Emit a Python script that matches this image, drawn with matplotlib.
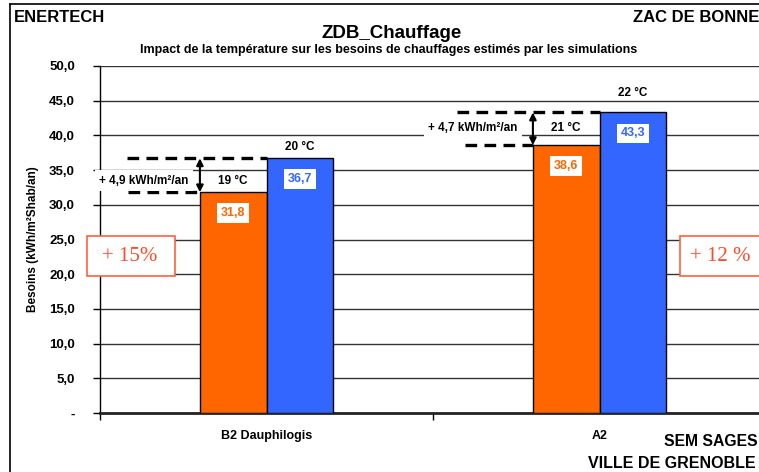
import matplotlib.pyplot as plt
from matplotlib.lines import Line2D
from matplotlib.patches import Rectangle
import numpy as np

categories = ["B2 Dauphilogis", "A2"]
low_vals = [31.8, 38.6]
high_vals = [36.7, 43.3]
low_temps = ["19 °C", "21 °C"]
high_temps = ["20 °C", "22 °C"]
deltas = ["+ 4,9 kWh/m²/an", "+ 4,7 kWh/m²/an"]
percents = ["+ 15%", "+ 12 %"]
yticks = [0, 5, 10, 15, 20, 25, 30, 35, 40, 45, 50]
ytick_labels = ["-", "5,0", "10,0", "15,0", "20,0", "25,0", "30,0", "35,0", "40,0", "45,0", "50,0"]

orange = "#FF6600"
blue = "#3366FF"
red = "#FF4A26"

plt.rcParams['font.family'] = ['Liberation Sans', 'DejaVu Sans']
plt.rcParams['font.weight'] = 'bold'

fig = plt.figure(figsize=(7.59, 4.72), dpi=100)
ax = fig.add_axes([100 / 759, 59 / 472, 666 / 759, 347 / 472])

x = np.arange(len(categories))
w = 0.2
ax.bar(x - w / 2, low_vals, w, color=orange, edgecolor="black", linewidth=1, zorder=3)
ax.bar(x + w / 2, high_vals, w, color=blue, edgecolor="black", linewidth=1, zorder=3)

ax.set_xlim(-0.5, 1.5)
ax.set_ylim(0, 50)
ax.set_yticks(yticks)
ax.set_yticklabels(ytick_labels, fontsize=9.5, fontweight="bold")
ax.set_xticks(x)
ax.set_xticklabels(categories, fontsize=9, fontweight="bold")
ax.set_xticks([-0.5, 0.5, 1.5], minor=True)
ax.tick_params(axis="x", which="major", length=0, pad=12)
ax.tick_params(axis="x", which="minor", length=5, width=1)
ax.tick_params(axis="y", length=5, width=1, pad=13)
ax.set_ylabel("Besoins (kWh/m²Shab/an)", fontsize=8.5, fontweight="bold", labelpad=7)

for yv in yticks[1:]:
    ax.axhline(yv, color="#333333", linewidth=1, zorder=1)
for s in ["top", "right"]:
    ax.spines[s].set_visible(False)
ax.spines["left"].set_linewidth(1)
ax.spines["bottom"].set_linewidth(2)
ax.spines["bottom"].set_color("#222222")
ax.spines["left"].set_zorder(2)

# labels on bars
temp_off_low = [4, 8]
temp_off_high = [4, 10]
for i in range(len(categories)):
    ax.annotate(low_temps[i], (x[i] - w / 2, low_vals[i]), xytext=(0, temp_off_low[i]),
                textcoords="offset points", ha="center", va="bottom", fontsize=8.5, fontweight="bold", zorder=5)
    ax.annotate(high_temps[i], (x[i] + w / 2, high_vals[i]), xytext=(0, temp_off_high[i]),
                textcoords="offset points", ha="center", va="bottom", fontsize=8.5, fontweight="bold", zorder=5)
    ax.annotate(f"{low_vals[i]:.1f}".replace(".", ","), (x[i] - w / 2, low_vals[i]), xytext=(0, -15),
                textcoords="offset points", ha="center", va="center", fontsize=9, fontweight="bold",
                color=orange, zorder=5,
                bbox=dict(boxstyle="square,pad=0.3", fc="white", ec="none"))
    ax.annotate(f"{high_vals[i]:.1f}".replace(".", ","), (x[i] + w / 2, high_vals[i]), xytext=(0, -15),
                textcoords="offset points", ha="center", va="center", fontsize=9, fontweight="bold",
                color=blue, zorder=5,
                bbox=dict(boxstyle="square,pad=0.3", fc="white", ec="none"))

# difference markers
dash_start_hi = [-0.419, 0.572]
dash_start_lo = [-0.416, 0.596]
delta_x = [-0.368, 0.62]
delta_y = [33.5, 41.1]
for i in range(len(categories)):
    ax.plot([dash_start_hi[i], x[i]], [high_vals[i]] * 2, color="black", lw=2.4,
            dashes=(3.5, 2.2), zorder=4, clip_on=False)
    ax.plot([dash_start_lo[i], x[i] - w], [low_vals[i]] * 2, color="black", lw=2.4,
            dashes=(3.5, 2.2), zorder=4, clip_on=False)
    ax.annotate("", xy=(x[i] - w, low_vals[i]), xytext=(x[i] - w, high_vals[i]),
                arrowprops=dict(arrowstyle="<|-|>", color="black", lw=1.5,
                                mutation_scale=10, shrinkA=0, shrinkB=0), zorder=6)
    ax.text(delta_x[i], delta_y[i], deltas[i], ha="center", va="center",
            fontsize=8.5, fontweight="bold", zorder=5, clip_on=False,
            bbox=dict(boxstyle="square,pad=0.35", fc="white", ec="none"))

# percentage boxes
box_x = [-0.020, 0.871]
box_w = [0.132, 0.16]
text_x = [0.045, 0.932]
for i in range(len(categories)):
    ax.add_patch(Rectangle((box_x[i], 0.395), box_w[i], 0.115, transform=ax.transAxes,
                           fc="white", ec="#FF6040", lw=1.2, zorder=7, clip_on=False))
    ax.text(text_x[i], 0.452, percents[i], transform=ax.transAxes, ha="center", va="center",
            family=["Liberation Serif", "DejaVu Serif"], fontweight="normal", fontsize=15,
            color=red, zorder=8, clip_on=False)

# titles and headers
fig.text(14 / 759, 1 - 17 / 472, "ENERTECH", fontsize=12, fontweight="bold", va="center")
fig.text(633 / 759, 1 - 17 / 472, "ZAC DE BONNE", fontsize=12, fontweight="bold", va="center")
fig.text(392 / 759, 1 - 33 / 472, "ZDB_Chauffage", fontsize=13.5, fontweight="bold", ha="center", va="center")
fig.text(389 / 759, 1 - 50 / 472, "Impact de la température sur les besoins de chauffages estimés par les simulations",
         fontsize=9, fontweight="bold", ha="center", va="center")
fig.text(664 / 759, 1 - 441 / 472, "SEM SAGES", fontsize=11.3, fontweight="bold", va="center")
fig.text(588 / 759, 1 - 463 / 472, "VILLE DE GRENOBLE", fontsize=11.5, fontweight="bold", va="center")

# outer frame
fig.add_artist(Line2D([10 / 759, 10 / 759], [0, 1 - 4 / 472], color="black", lw=1.2))
fig.add_artist(Line2D([10 / 759, 1], [1 - 4 / 472, 1 - 4 / 472], color="black", lw=1.2))

fig.savefig("out.png", dpi=100)
